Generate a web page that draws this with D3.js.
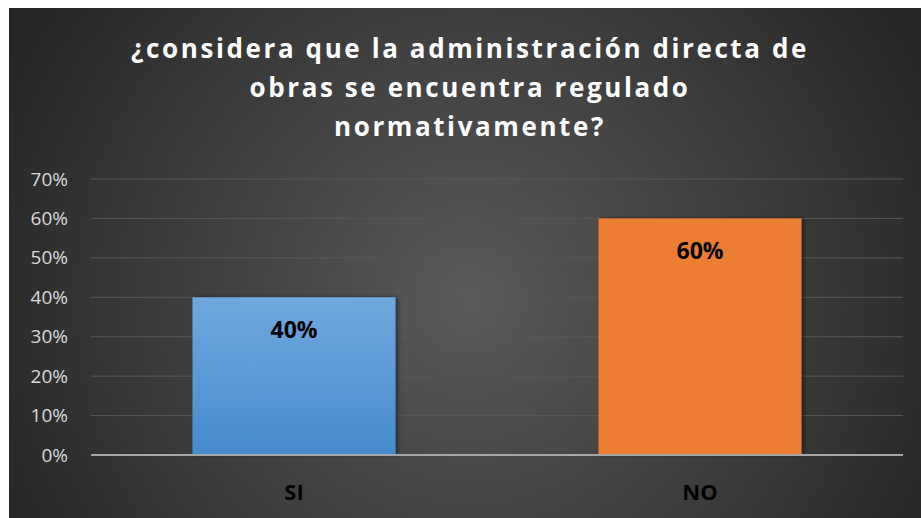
<!DOCTYPE html>
<meta charset="utf-8">
<head>
    <title>Regulado normativamente</title>
</head>
<style>
    body { margin: 0; background: #fff; }
    svg { display: block; }
</style>
<body>
    <svg></svg>
    <script src="https://cdnjs.cloudflare.com/ajax/libs/d3/7.8.5/d3.min.js"></script>
    <script>
        // Data
        var categories = ["SI", "NO"];
        var values = [0.40, 0.60];
        var yTicks = [0, 0.1, 0.2, 0.3, 0.4, 0.5, 0.6, 0.7];
        var titleLines = [
            "¿considera que la administración directa de",
            "obras se encuentra regulado",
            "normativamente?"
        ];

        var width = 921, height = 518;
        var frame = { x: 9, y: 8 };
        var margin = { top: 179, right: 18, bottom: 63, left: 91 };

        var svg = d3.select('svg').attr('width', width).attr('height', height);
        var defs = svg.append('defs');

        var bg = defs.append('radialGradient').attr('id', 'bg')
            .attr('gradientUnits', 'userSpaceOnUse')
            .attr('cx', 470).attr('cy', 300).attr('r', 520);
        bg.append('stop').attr('offset', '0%').attr('stop-color', '#5a5a5a');
        bg.append('stop').attr('offset', '100%').attr('stop-color', '#262626');

        var blue = defs.append('linearGradient').attr('id', 'blue')
            .attr('x1', 0).attr('x2', 0).attr('y1', 0).attr('y2', 1);
        blue.append('stop').attr('offset', '0%').attr('stop-color', '#70a8de');
        blue.append('stop').attr('offset', '100%').attr('stop-color', '#468bcd');

        var shadow = defs.append('filter').attr('id', 'shadow')
            .attr('x', '-10%').attr('y', '-10%').attr('width', '130%').attr('height', '130%');
        shadow.append('feDropShadow').attr('dx', 2).attr('dy', 0).attr('stdDeviation', 2)
            .attr('flood-color', '#000').attr('flood-opacity', 0.5);

        svg.append('rect')
            .attr('x', frame.x).attr('y', frame.y)
            .attr('width', width - frame.x).attr('height', height - frame.y)
            .attr('fill', 'url(#bg)');

        // Title
        svg.append('g').selectAll('text')
            .data(titleLines)
            .enter()
            .append('text')
            .attr('x', 470)
            .attr('y', (d, i) => 58 + i * 39)
            .attr('text-anchor', 'middle')
            .attr('font-family', 'Open Sans, sans-serif')
            .attr('font-weight', 'bold')
            .attr('font-size', 26)
            .attr('letter-spacing', 2.6)
            .attr('fill', '#ffffff')
            .text(d => d);

        // Scales
        var x = d3.scaleBand()
            .domain(categories)
            .range([margin.left, width - margin.right])
            .paddingInner(0.5)
            .paddingOuter(0.25);

        var y = d3.scaleLinear()
            .domain([0, 0.7])
            .range([height - margin.bottom, margin.top]);

        // Grid
        svg.append('g').selectAll('line')
            .data(yTicks.slice(1))
            .enter()
            .append('line')
            .attr('x1', margin.left).attr('x2', width - margin.right)
            .attr('y1', d => y(d)).attr('y2', d => y(d))
            .attr('stroke', '#575757')
            .attr('stroke-width', 1);

        // Y axis
        var yAxis = svg.append('g')
            .attr('transform', `translate(${margin.left},0)`)
            .call(d3.axisLeft(y).tickValues(yTicks).tickFormat(d3.format('.0%')).tickSize(0).tickPadding(23));
        yAxis.select('.domain').remove();
        yAxis.selectAll('text')
            .attr('font-family', 'Open Sans, sans-serif')
            .attr('font-size', 19)
            .attr('fill', '#d9d9d9');

        // Bars
        svg.append('g').selectAll('rect')
            .data(categories)
            .enter()
            .append('rect')
            .attr('x', d => x(d))
            .attr('y', (d, i) => y(values[i]))
            .attr('width', x.bandwidth())
            .attr('height', (d, i) => y(0) - y(values[i]))
            .attr('fill', (d, i) => i === 0 ? 'url(#blue)' : '#ed7d31')
            .attr('filter', 'url(#shadow)');

        // Baseline
        svg.append('line')
            .attr('x1', margin.left).attr('x2', width - margin.right)
            .attr('y1', y(0)).attr('y2', y(0))
            .attr('stroke', '#a6a6a6')
            .attr('stroke-width', 2);

        // Value labels
        svg.append('g').selectAll('text')
            .data(categories)
            .enter()
            .append('text')
            .attr('x', d => x(d) + x.bandwidth() / 2)
            .attr('y', (d, i) => y(values[i]) + 41)
            .attr('text-anchor', 'middle')
            .attr('font-family', 'Open Sans, sans-serif')
            .attr('font-weight', 'bold')
            .attr('font-size', 23)
            .attr('fill', '#000')
            .text((d, i) => d3.format('.0%')(values[i]));

        // Category labels
        svg.append('g').selectAll('text')
            .data(categories)
            .enter()
            .append('text')
            .attr('x', d => x(d) + x.bandwidth() / 2)
            .attr('y', 500)
            .attr('text-anchor', 'middle')
            .attr('font-family', 'Open Sans, sans-serif')
            .attr('font-weight', 'bold')
            .attr('font-size', 22)
            .attr('fill', '#000')
            .text(d => d);
    </script>
</body>
</html>
